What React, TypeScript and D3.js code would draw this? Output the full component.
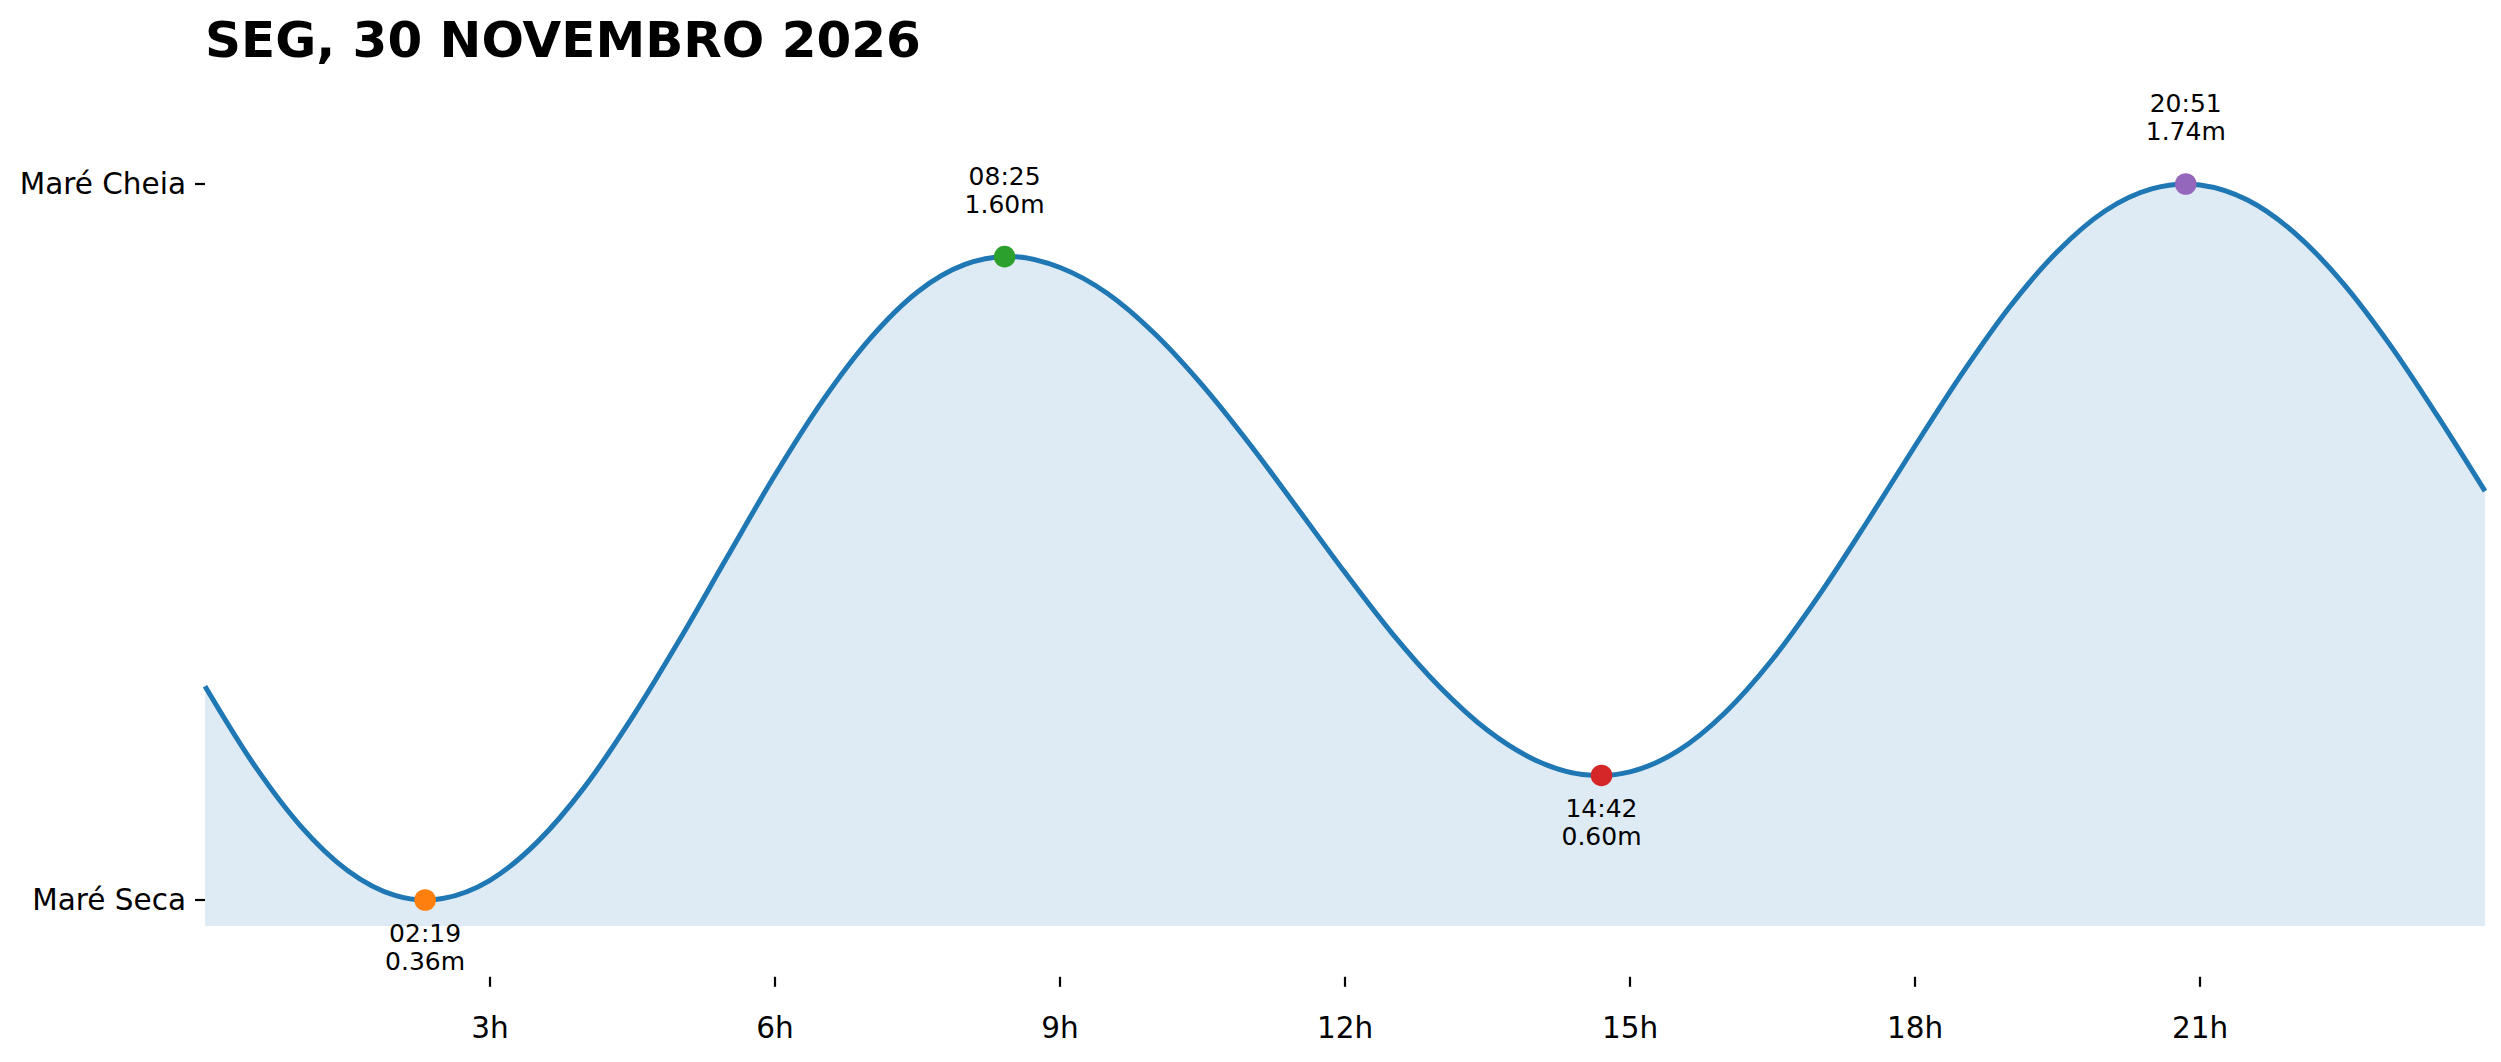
import React from 'react';
import * as d3 from 'd3';

const TITLE = 'SEG, 30 NOVEMBRO 2026';

// Tide curve samples (hour of day, height in metres)
const tideHours = [
  0, 0.5, 1, 1.5, 2, 2.317, 2.5, 3, 3.5, 4, 4.5, 5, 5.5, 6, 6.5, 7, 7.5, 8, 8.417, 8.5,
  9, 9.5, 10, 10.5, 11, 11.5, 12, 12.5, 13, 13.5, 14, 14.5, 14.7, 15, 15.5, 16, 16.5, 17,
  17.5, 18, 18.5, 19, 19.5, 20, 20.5, 20.85, 21, 21.5, 22, 22.5, 23, 23.5, 24,
];
const tideHeights = [
  0.772, 0.625, 0.504, 0.417, 0.369, 0.36, 0.363, 0.398, 0.472, 0.579, 0.713, 0.863, 1.022, 1.179, 1.322, 1.442, 1.532, 1.585, 1.6, 1.6,
  1.579, 1.529, 1.451, 1.352, 1.238, 1.115, 0.991, 0.873, 0.77, 0.687, 0.63, 0.602, 0.6, 0.607, 0.647, 0.721, 0.824, 0.95,
  1.09, 1.235, 1.376, 1.504, 1.61, 1.688, 1.731, 1.74, 1.738, 1.709, 1.645, 1.55, 1.43, 1.293, 1.148,
];

// Extremes
const extremeHours = [2.317, 8.417, 14.7, 20.85];
const extremeHeights = [0.36, 1.6, 0.6, 1.74];
const extremeTimes = ['02:19', '08:25', '14:42', '20:51'];
const extremeKinds = ['low', 'high', 'low', 'high'];
const extremeColors = ['#ff7f0e', '#2ca02c', '#d62728', '#9467bd'];

const xTickValues = [3, 6, 9, 12, 15, 18, 21];
const xTickLabels = ['3h', '6h', '9h', '12h', '15h', '18h', '21h'];
const yTickValues = [0.36, 1.74];
const yTickLabels = ['Maré Seca', 'Maré Cheia'];

const FILL_BASE = 0.31;
const Y_AXIS_MIN = 0.212;

const W = 2501;
const H = 1062;
const FONT = '"DejaVu Sans", Verdana, sans-serif';

export default function App() {
  const x = d3.scaleLinear().domain([0, 24]).range([205, 2485]);
  const y = d3.scaleLinear().domain([0.36, 1.74]).range([900, 184]);

  const pts: [number, number][] = tideHours.map((t, i) => [t, tideHeights[i]]);
  const line = d3
    .line<[number, number]>()
    .x((d) => x(d[0]))
    .y((d) => y(d[1]))
    .curve(d3.curveMonotoneX);
  const area = d3
    .area<[number, number]>()
    .x((d) => x(d[0]))
    .y0(y(FILL_BASE))
    .y1((d) => y(d[1]))
    .curve(d3.curveMonotoneX);

  const axisY = y(Y_AXIS_MIN);
  const axisX = x(0);

  return (
    <svg
      width={W}
      height={H}
      viewBox={`0 0 ${W} ${H}`}
      style={{ position: 'absolute', left: 0, top: 0, background: '#fff' }}
      fontFamily={FONT}
    >
      <rect x={0} y={0} width={W} height={H} fill="#ffffff" />
      <text x={205} y={57} fontSize={50} fontWeight="bold" fill="#000">
        {TITLE}
      </text>

      <path d={area(pts) || ''} fill="#1f77b4" fillOpacity={0.15} />
      <path d={line(pts) || ''} fill="none" stroke="#1f77b4" strokeWidth={5} strokeLinejoin="round" />

      {extremeHours.map((t, i) => {
        const cx = x(t);
        const cy = y(extremeHeights[i]);
        const high = extremeKinds[i] === 'high';
        const b1 = high ? cy - 72 : cy + 42;
        const b2 = high ? cy - 44 : cy + 70;
        return (
          <g key={i}>
            <circle cx={cx} cy={cy} r={10.8} fill={extremeColors[i]} />
            <text x={cx} y={b1} fontSize={25} textAnchor="middle" fill="#000">
              {extremeTimes[i]}
            </text>
            <text x={cx} y={b2} fontSize={25} textAnchor="middle" fill="#000">
              {extremeHeights[i].toFixed(2)}m
            </text>
          </g>
        );
      })}

      {xTickValues.map((v, i) => (
        <g key={'xt' + i}>
          <line x1={x(v)} x2={x(v)} y1={axisY} y2={axisY + 10} stroke="#000" strokeWidth={2.2} />
          <text x={x(v)} y={1038} fontSize={29.5} textAnchor="middle" fill="#000">
            {xTickLabels[i]}
          </text>
        </g>
      ))}

      {yTickValues.map((v, i) => (
        <g key={'yt' + i}>
          <line x1={axisX - 10} x2={axisX} y1={y(v)} y2={y(v)} stroke="#000" strokeWidth={2.2} />
          <text x={186} y={y(v)} dy="0.35em" fontSize={29.5} textAnchor="end" fill="#000">
            {yTickLabels[i]}
          </text>
        </g>
      ))}
    </svg>
  );
}
